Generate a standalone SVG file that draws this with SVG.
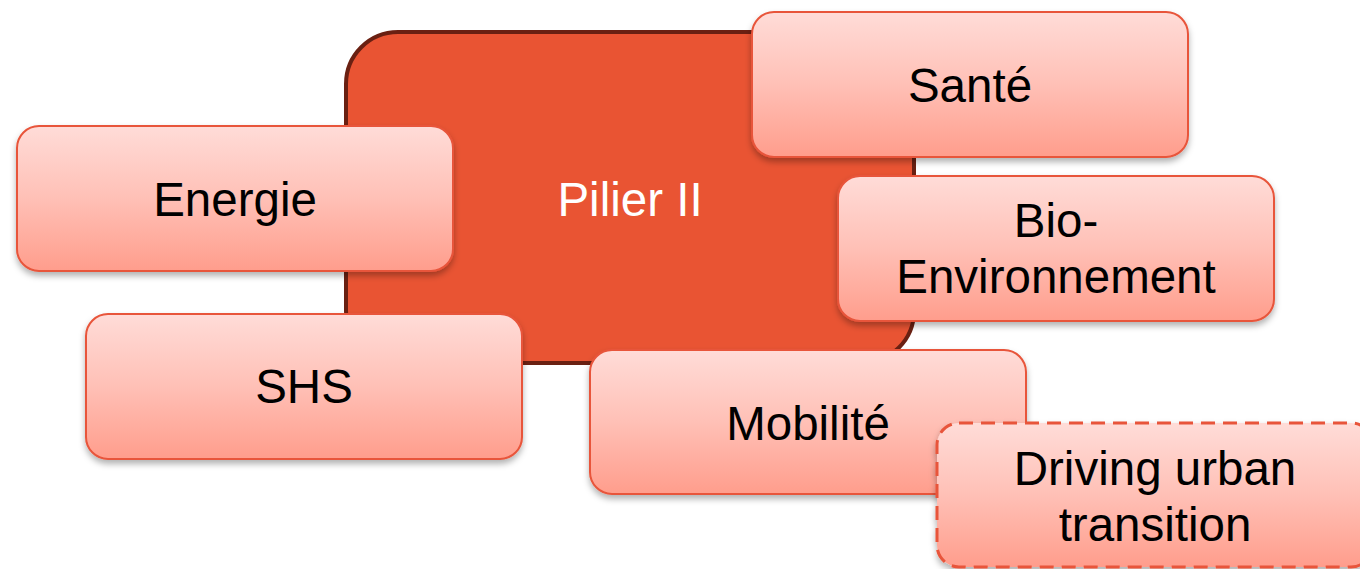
<svg xmlns="http://www.w3.org/2000/svg" width="1360" height="569" viewBox="0 0 1360 569">
<defs>
<linearGradient id="g" x1="0" y1="0" x2="0" y2="1">
<stop offset="0" stop-color="#ffdcd8"/>
<stop offset="0.5" stop-color="#ffc0b6"/>
<stop offset="1" stop-color="#ff9d8c"/>
</linearGradient>
<filter id="sh" x="-10%" y="-10%" width="120%" height="130%">
<feDropShadow dx="0" dy="4" stdDeviation="3" flood-color="#000" flood-opacity="0.3"/>
</filter>
</defs>
<style>
.box{fill:url(#g);stroke:#e8543a;stroke-width:2;filter:url(#sh)}
.dash{stroke-dasharray:14 8;stroke-width:3}
.t{font-family:"Liberation Sans",Arial,sans-serif;font-size:47.5px;fill:#000;text-anchor:middle}
.w{fill:#fff}
</style>
<rect width="1360" height="569" fill="#fff"/>
<g id="pilier">
<rect x="346" y="32" width="568" height="331" rx="52" fill="#e95433" stroke="#6a2012" stroke-width="4"/>
<text class="t w" x="630" y="216">Pilier II</text>
</g>
<g id="energie">
<rect class="box" x="17" y="126" width="436" height="145" rx="22"/>
<text class="t" x="235" y="216">Energie</text>
</g>
<g id="sante">
<rect class="box" x="752" y="12" width="436" height="145" rx="22"/>
<text class="t" x="970" y="102">Santé</text>
</g>
<g id="bio">
<rect class="box" x="838" y="176" width="436" height="145" rx="22"/>
<text class="t" x="1056" y="237">Bio-</text>
<text class="t" x="1056" y="293">Environnement</text>
</g>
<g id="shs">
<rect class="box" x="86" y="314" width="436" height="145" rx="22"/>
<text class="t" x="304" y="403">SHS</text>
</g>
<g id="mobilite">
<rect class="box" x="590" y="350" width="436" height="144" rx="22"/>
<text class="t" x="808" y="440">Mobilité</text>
</g>
<g id="driving">
<rect class="box dash" x="937" y="423" width="436" height="144" rx="22"/>
<text class="t" x="1155" y="485">Driving urban</text>
<text class="t" x="1155" y="541">transition</text>
</g>
<g id="connectors"/>
</svg>
